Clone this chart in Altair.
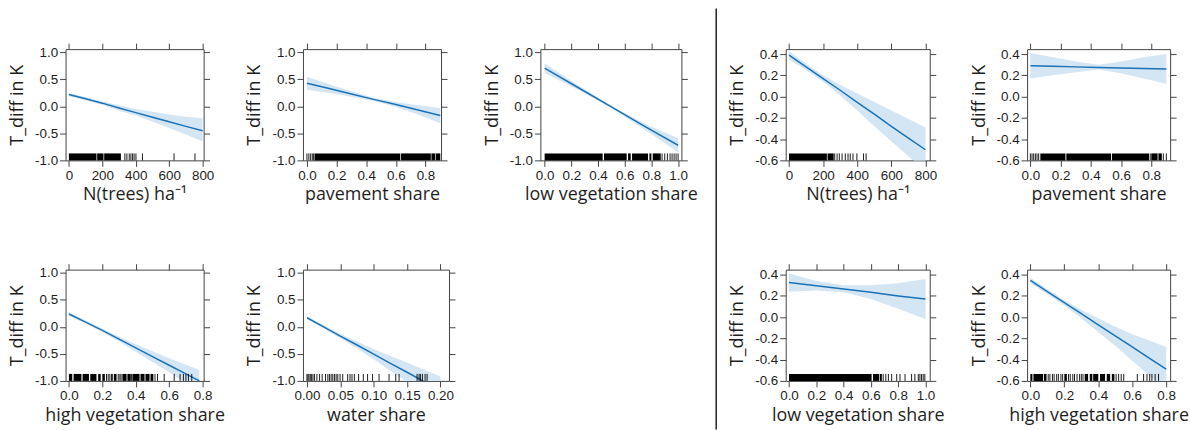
import altair as alt
import pandas as pd

LINE = "#1a72b8"
BAND = "#d4e5f3"
INK = "#1e1e1e"

# ---------------- left model ----------------
treesL_x = [0, 100, 200, 300, 400, 500, 600, 700, 800]
treesL_fit = [0.22, 0.14, 0.06, -0.03, -0.115, -0.20, -0.285, -0.37, -0.45]
treesL_lo = [0.19, 0.11, 0.03, -0.08, -0.17, -0.28, -0.40, -0.52, -0.65]
treesL_hi = [0.25, 0.17, 0.09, 0.02, -0.05, -0.10, -0.15, -0.19, -0.22]
treesL_rug_seg = [(0, 165), (169, 207), (211, 311)]
treesL_rug_tick = [335, 347, 361, 371, 381, 390, 401, 440, 629, 754]

paveL_x = [0, 0.15, 0.3, 0.45, 0.6, 0.75, 0.9]
paveL_fit = [0.43, 0.33, 0.23, 0.13, 0.035, -0.065, -0.17]
paveL_lo = [0.31, 0.25, 0.18, 0.10, -0.01, -0.15, -0.31]
paveL_hi = [0.55, 0.41, 0.28, 0.16, 0.08, 0.02, -0.03]
paveL_rug_seg = [(0.051, 0.630), (0.635, 0.836), (0.840, 0.865), (0.869, 0.90)]
paveL_rug_tick = [0.0, 0.013, 0.025, 0.036, 0.045]

lowL_x = [0, 0.25, 0.5, 0.75, 1.0]
lowL_fit = [0.71, 0.35, -0.01, -0.37, -0.72]
lowL_lo = [0.62, 0.31, -0.03, -0.43, -0.85]
lowL_hi = [0.80, 0.39, 0.01, -0.32, -0.59]
lowL_rug_seg = [(0, 0.435), (0.445, 0.615), (0.625, 0.645), (0.655, 0.775),
                (0.785, 0.80), (0.81, 0.87)]
lowL_rug_tick = [0.88, 0.90, 0.92, 0.94, 0.955, 0.97, 0.985, 1.0]

highL_x = [0, 0.1, 0.2, 0.3, 0.4, 0.5, 0.6, 0.7, 0.78]
highL_fit = [0.24, 0.09, -0.065, -0.225, -0.39, -0.55, -0.71, -0.87, -1.0]
highL_lo = [0.21, 0.06, -0.095, -0.27, -0.46, -0.65, -0.84, -1.04, -1.22]
highL_hi = [0.27, 0.12, -0.035, -0.18, -0.32, -0.45, -0.58, -0.70, -0.80]
highL_rug_seg = [(0.0, 0.02), (0.028, 0.075), (0.082, 0.12), (0.128, 0.165),
                 (0.175, 0.19), (0.2, 0.215), (0.27, 0.285), (0.32, 0.345),
                 (0.35, 0.37), (0.38, 0.42), (0.43, 0.45), (0.46, 0.48), (0.49, 0.505)]
highL_rug_tick = [0.225, 0.235, 0.245, 0.255, 0.262, 0.295, 0.305, 0.312, 0.375,
                  0.425, 0.455, 0.485, 0.515, 0.53, 0.57, 0.63, 0.665, 0.685,
                  0.70, 0.715, 0.735]

water_x = [0, 0.025, 0.05, 0.075, 0.1, 0.125, 0.15, 0.175, 0.2]
water_fit = [0.17, 0.0, -0.17, -0.335, -0.505, -0.675, -0.84, -1.01, -1.18]
water_lo = [0.15, -0.03, -0.21, -0.40, -0.60, -0.81, -1.02, -1.23, -1.44]
water_hi = [0.19, 0.03, -0.13, -0.27, -0.41, -0.54, -0.66, -0.79, -0.92]
water_rug_seg = []
water_rug_tick = [0, 0.0015, 0.003, 0.005, 0.007, 0.009, 0.0114, 0.0149, 0.0189,
                  0.0228, 0.0278, 0.0313, 0.0337, 0.0362, 0.0387, 0.0412, 0.0437,
                  0.0462, 0.0496, 0.0536, 0.061, 0.0645, 0.0675, 0.071, 0.0774,
                  0.0844, 0.0908, 0.0983, 0.108, 0.123, 0.133, 0.138, 0.165,
                  0.168, 0.170, 0.173, 0.177, 0.180]

# ---------------- right model ----------------
treesR_x = [0, 100, 200, 300, 400, 500, 600, 700, 800]
treesR_fit = [0.39, 0.28, 0.17, 0.06, -0.055, -0.165, -0.28, -0.39, -0.50]
treesR_lo = [0.35, 0.25, 0.14, 0.01, -0.13, -0.28, -0.42, -0.56, -0.70]
treesR_hi = [0.43, 0.31, 0.20, 0.11, 0.03, -0.05, -0.13, -0.21, -0.29]
treesR_rug_seg = [(0, 222), (226, 262)]
treesR_rug_tick = [268, 282, 295, 311, 330, 346, 359, 375, 398, 437, 452]

paveR_x = [0, 0.15, 0.3, 0.45, 0.6, 0.75, 0.9]
paveR_fit = [0.29, 0.285, 0.28, 0.275, 0.27, 0.265, 0.26]
paveR_lo = [0.17, 0.20, 0.23, 0.255, 0.22, 0.17, 0.12]
paveR_hi = [0.41, 0.37, 0.33, 0.30, 0.33, 0.37, 0.40]
paveR_rug_seg = [(0.066, 0.232), (0.238, 0.534), (0.540, 0.785), (0.80, 0.84), (0.85, 0.87)]
paveR_rug_tick = [0.0, 0.011, 0.022, 0.033, 0.044, 0.055, 0.793, 0.845, 0.88, 0.9]

lowR_x = [0, 0.2, 0.4, 0.6, 0.8, 1.0]
lowR_fit = [0.325, 0.295, 0.265, 0.235, 0.20, 0.17]
lowR_lo = [0.24, 0.25, 0.235, 0.17, 0.08, -0.02]
lowR_hi = [0.41, 0.34, 0.30, 0.30, 0.32, 0.36]
lowR_rug_seg = [(0, 0.605), (0.615, 0.66), (0.665, 0.68)]
lowR_rug_tick = [0.69, 0.709, 0.728, 0.752, 0.789, 0.813, 0.85, 0.898, 0.922,
                 0.947, 0.959, 0.971, 0.983, 0.995]

highR_x = [0, 0.1, 0.2, 0.3, 0.4, 0.5, 0.6, 0.7, 0.8]
highR_fit = [0.345, 0.24, 0.136, 0.032, -0.073, -0.177, -0.281, -0.386, -0.49]
highR_lo = [0.32, 0.215, 0.11, -0.01, -0.14, -0.27, -0.41, -0.55, -0.69]
highR_hi = [0.37, 0.265, 0.16, 0.07, -0.01, -0.09, -0.16, -0.22, -0.28]
highR_rug_seg = [(0.0, 0.012), (0.018, 0.075), (0.08, 0.095), (0.2, 0.215),
                 (0.32, 0.34), (0.35, 0.365), (0.37, 0.40), (0.41, 0.44),
                 (0.45, 0.47), (0.48, 0.495)]
highR_rug_tick = [0.105, 0.115, 0.13, 0.14, 0.155, 0.165, 0.18, 0.19, 0.225, 0.235,
                  0.25, 0.26, 0.275, 0.29, 0.30, 0.31, 0.505, 0.52, 0.535, 0.55,
                  0.63, 0.667, 0.687, 0.703, 0.716, 0.735, 0.755]

# tick values
y_ticks_L = [-1.0, -0.5, 0.0, 0.5, 1.0]
y_ticks_R = [-0.6, -0.4, -0.2, 0.0, 0.2, 0.4]
x_ticks_trees = [0, 200, 400, 600, 800]
x_ticks_share8 = [0.0, 0.2, 0.4, 0.6, 0.8]
x_ticks_share10 = [0.0, 0.2, 0.4, 0.6, 0.8, 1.0]
x_ticks_water = [0.0, 0.05, 0.10, 0.15, 0.20]

Y_TITLE = "T_diff in K"
H = 112
RUG = 7
HYPHEN = "replace(datum.label, '\u2212', '-')"


def panel(xv, fit, lo, hi, segs, ticks, xdom, ydom, xvals, yvals, xfmt, yfmt,
          xtitle, w):
    df = pd.DataFrame({"x": xv, "fit": fit, "lo": lo, "hi": hi})
    xs = alt.Scale(domain=xdom, nice=False, zero=False)
    ys = alt.Scale(domain=ydom, nice=False, zero=False)
    ax_b = alt.Axis(orient="bottom", values=xvals, format=xfmt, title=xtitle,
                    labelExpr=HYPHEN, labelOverlap=False, labelFlush=False,
                    labelBound=False, titlePadding=4)
    ax_l = alt.Axis(orient="left", values=yvals, format=yfmt, title=Y_TITLE,
                    labelExpr=HYPHEN, labelOverlap=False, labelFlush=False,
                    titlePadding=8)
    ax_t = alt.Axis(orient="top", values=xvals, labels=False, title=None)
    ax_r = alt.Axis(orient="right", values=yvals, labels=False, title=None)

    base = alt.Chart(df)
    band = base.mark_area(clip=True, color=BAND, opacity=1).encode(
        x=alt.X("x:Q", scale=xs, axis=ax_b),
        y=alt.Y("lo:Q", scale=ys, axis=ax_l),
        y2="hi:Q",
    )
    line = base.mark_line(clip=True, color=LINE, strokeWidth=1.5).encode(
        x=alt.X("x:Q", scale=xs, axis=None),
        y=alt.Y("fit:Q", scale=ys, axis=None),
    )
    frame = base.mark_point(clip=True, opacity=0).encode(
        x=alt.X("x:Q", scale=xs, axis=ax_t),
        y=alt.Y("fit:Q", scale=ys, axis=ax_r),
    )
    layers = [band, line]
    if segs:
        sdf = pd.DataFrame({"a": [s[0] for s in segs], "b": [s[1] for s in segs]})
        layers.append(
            alt.Chart(sdf).mark_rect(color="black").encode(
                x=alt.X("a:Q", scale=xs, axis=None),
                x2="b:Q",
                y=alt.value(H),
                y2=alt.value(H - RUG),
            )
        )
    if ticks:
        tdf = pd.DataFrame({"t": ticks})
        layers.append(
            alt.Chart(tdf).mark_rule(color="black", strokeWidth=0.9).encode(
                x=alt.X("t:Q", scale=xs, axis=None),
                y=alt.value(H),
                y2=alt.value(H - RUG),
            )
        )
    layers.append(frame)
    return alt.layer(*layers).resolve_axis(x="independent", y="independent").properties(
        width=w, height=H
    )


def spacer(w, divider_x=None):
    base = alt.Chart(pd.DataFrame({"v": [0]}))
    if divider_x is None:
        m = base.mark_point(opacity=0, size=1).encode(x=alt.value(0), y=alt.value(0))
    else:
        m = base.mark_rule(color="black", strokeWidth=1.3).encode(
            x=alt.value(divider_x), y=alt.value(-263), y2=alt.value(161)
        )
    return m.properties(width=w, height=H)


YL = [-1.0, 1.061]
YR = [-0.6, 0.447]

p1 = panel(treesL_x, treesL_fit, treesL_lo, treesL_hi, treesL_rug_seg, treesL_rug_tick,
           [-20, 806], YL, x_ticks_trees, y_ticks_L, "d", ".1f", "N(trees) ha\u207b\u00b9", 139)
p2 = panel(paveL_x, paveL_fit, paveL_lo, paveL_hi, paveL_rug_seg, paveL_rug_tick,
           [-0.027, 0.905], YL, x_ticks_share8, y_ticks_L, ".1f", ".1f", "pavement share", 139)
p3 = panel(lowL_x, lowL_fit, lowL_lo, lowL_hi, lowL_rug_seg, lowL_rug_tick,
           [-0.032, 1.025], YL, x_ticks_share10, y_ticks_L, ".1f", ".1f", "low vegetation share", 142)
p6 = panel(highL_x, highL_fit, highL_lo, highL_hi, highL_rug_seg, highL_rug_tick,
           [-0.020, 0.806], YL, x_ticks_share8, y_ticks_L, ".1f", ".1f", "high vegetation share", 139)
p7 = panel(water_x, water_fit, water_lo, water_hi, water_rug_seg, water_rug_tick,
           [-0.006, 0.2128], YL, x_ticks_water, y_ticks_L, ".2f", ".1f", "water share", 147)

p4 = panel(treesR_x, treesR_fit, treesR_lo, treesR_hi, treesR_rug_seg, treesR_rug_tick,
           [-19.2, 825], YR, x_ticks_trees, y_ticks_R, "d", ".1f", "N(trees) ha\u207b\u00b9", 145)
p5 = panel(paveR_x, paveR_fit, paveR_lo, paveR_hi, paveR_rug_seg, paveR_rug_tick,
           [-0.0217, 0.925], YR, x_ticks_share8, y_ticks_R, ".1f", ".1f", "pavement share", 144)
p8 = panel(lowR_x, lowR_fit, lowR_lo, lowR_hi, lowR_rug_seg, lowR_rug_tick,
           [-0.024, 1.031], YR, x_ticks_share10, y_ticks_R, ".1f", ".1f", "low vegetation share", 145)
p9 = panel(highR_x, highR_fit, highR_lo, highR_hi, highR_rug_seg, highR_rug_tick,
           [-0.0193, 0.8233], YR, x_ticks_share8, y_ticks_R, ".1f", ".1f", "high vegetation share", 144)

row1 = [p1, spacer(100), p2, spacer(92), p3, spacer(105), p4, spacer(98), p5]
row2 = [p6, spacer(100), p7, spacer(92), spacer(142), spacer(105, divider_x=35), p8, spacer(98), p9]

chart = alt.concat(
    *row1, *row2, columns=9, spacing={"row": 110, "column": 0},
    bounds="flush", align="each",
).properties(
    padding={"left": 8, "top": 5, "right": 0, "bottom": 0},
    background="white",
).configure_view(
    stroke="transparent"
).configure_axis(
    grid=False,
    domainColor="#444444",
    tickColor="#444444",
    domainWidth=1,
    tickWidth=1,
    tickSize=6,
    labelFont="Liberation Sans",
    labelFontSize=13.5,
    labelColor=INK,
    labelPadding=2,
    titleFont="Open Sans",
    titleFontSize=18,
    titleFontWeight="normal",
    titleColor=INK,
)

chart.save("out.html", embed_options={"renderer": "svg", "actions": False})
